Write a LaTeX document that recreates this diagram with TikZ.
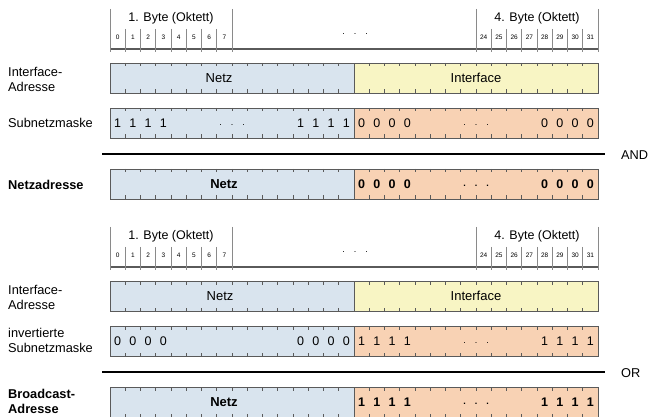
\documentclass[tikz,border=0pt]{standalone}
\usepackage{fontspec}
\setmainfont{Liberation Sans}
\definecolor{netzblue}{HTML}{D9E4EE}
\definecolor{ifyellow}{HTML}{F8F5C4}
\definecolor{hostpeach}{HTML}{F8D2B4}
\definecolor{edge}{HTML}{5A5A5A}
\definecolor{sepgray}{HTML}{8A8A8A}
\begin{document}
\begin{tikzpicture}[x=1pt,y=-1pt,
  lbl/.style={anchor=west,align=left,inner sep=0pt,font=\fontsize{12.8}{15}\selectfont},
  lblb/.style={lbl,font=\fontsize{12.8}{15}\selectfont\bfseries},
  hdrtitle/.style={inner sep=0pt,font=\fontsize{12.5}{14}\selectfont},
  bitnum/.style={inner sep=0pt,font=\fontsize{6.5}{7}\selectfont},
  ellip/.style={inner sep=0pt,font=\fontsize{9}{9}\selectfont},
  hdrbase/.style={draw=edge,line width=1.5pt},
  hdrsep/.style={draw=sepgray,line width=0.9pt},
  field/.style={draw=edge,line width=1.1pt,anchor=north west,minimum width=244pt,
    minimum height=30pt,inner sep=0pt},
  fieldtext/.style={inner sep=0pt,font=\fontsize{13}{14}\selectfont},
  fieldtextb/.style={inner sep=0pt,font=\fontsize{13}{14}\selectfont\bfseries},
  tick/.style={draw=edge,line width=0.7pt},
  digit/.style={inner sep=0pt,font=\fontsize{12.5}{14}\selectfont},
  digitb/.style={digit,font=\fontsize{12.5}{14}\selectfont\bfseries},
  oprule/.style={draw=black,line width=1.8pt},
  optext/.style={anchor=west,inner sep=0pt,font=\fontsize{12.8}{14}\selectfont}]
\useasboundingbox (0,0) rectangle (654,417);

% ---------------- header rules (base line, byte bounds, bit separators) ----------------
\foreach \top in {9,227} {
  \draw[hdrbase] (110,\top+40) -- (598,\top+40);
  \foreach \k in {0,8,24,32}
    \draw[hdrsep] ({110+\k*15.25},\top) -- ({110+\k*15.25},\top+43);
  \foreach \k in {1,...,7,25,26,27,28,29,30,31}
    \draw[hdrsep] ({110+\k*15.25},\top+20) -- ({110+\k*15.25},\top+43);
}

% bit ticks on a 32 bit field whose top edge is at #1
\newcommand\fieldticks[1]{%
  \foreach \k in {1,...,31} {
    \ifnum\k=16\relax\else
      \draw[tick] ({110+\k*15.25},#1) -- ++(0,3.5);
      \draw[tick] ({110+\k*15.25},{#1+30}) -- ++(0,-3.5);
    \fi
  }
}

% four digits in cells #2..#2+3 at height #3, style #1
\newcommand\digits[4]{%
  \foreach \k in {0,...,3}
    \node[#1] at ({110+(#2+\k+0.5)*15.25},#3) {#4};
}

% bit header texts, top at #2, names prefixed with #1
\newcommand\headertexts[2]{%
  \node[ellip] (#1dots) at (355,#2+25) {.\hspace{9pt}.\hspace{9pt}.};
  \node[hdrtitle] (#1ta) at ({110+4*15.25},#2+9) {1. Byte (Oktett)};
  \node[hdrtitle] (#1td) at ({110+28*15.25},#2+9) {4. Byte (Oktett)};
  \foreach \k in {0,...,7,24,25,26,27,28,29,30,31}
    \node[bitnum] (#1bit\k) at ({110+(\k+0.5)*15.25},#2+28) {\k};
}

\headertexts{h1}{9}
\headertexts{h2}{227}

% ---------------- network address (AND) ----------------
\node[lbl] (l1) at (8,79) {Interface-\\Adresse};
\node[field,fill=netzblue] (a1) at (110,63) {};
\node[field,fill=ifyellow] (b1) at (354,63) {};
\fieldticks{63}
\node[fieldtext] (a1t) at (219,78) {Netz};
\node[fieldtext] (b1t) at (476,78) {Interface};

\node[lbl] (l2) at (8,123) {Subnetzmaske};
\node[field,fill=netzblue] (a2) at (110,108) {};
\node[field,fill=hostpeach] (b2) at (354,108) {};
\fieldticks{108}
\digits{digit}{0}{123}{1}
\digits{digit}{12}{123}{1}
\digits{digit}{16}{123}{0}
\digits{digit}{28}{123}{0}
\node[ellip] (d2a) at (232,125) {.\hspace{9pt}.\hspace{9pt}.};
\node[ellip] (d2b) at (476,125) {.\hspace{9pt}.\hspace{9pt}.};

\coordinate (and0) at (102,154);
\coordinate (and1) at (605,154);
\draw[oprule] (and0) -- (and1);
\node[optext] (andop) at (621,155) {AND};

\node[lblb] (l3) at (8,185) {Netzadresse};
\node[field,fill=netzblue] (a3) at (110,169) {};
\node[field,fill=hostpeach] (b3) at (354,169) {};
\fieldticks{169}
\node[fieldtextb] (a3t) at (224,184) {Netz};
\digits{digitb}{16}{184}{0}
\digits{digitb}{28}{184}{0}
\node[ellip,font=\fontsize{9}{9}\selectfont\bfseries] (d3) at (476,186) {.\hspace{9pt}.\hspace{9pt}.};

% ---------------- broadcast address (OR) ----------------
\node[lbl] (l4) at (8,297) {Interface-\\Adresse};
\node[field,fill=netzblue] (a4) at (110,281) {};
\node[field,fill=ifyellow] (b4) at (354,281) {};
\fieldticks{281}
\node[fieldtext] (a4t) at (220,296) {Netz};
\node[fieldtext] (b4t) at (476,296) {Interface};

\node[lbl] (l5) at (8,340) {invertierte\\Subnetzmaske};
\node[field,fill=netzblue] (a5) at (110,326) {};
\node[field,fill=hostpeach] (b5) at (354,326) {};
\fieldticks{326}
\digits{digit}{0}{341}{0}
\digits{digit}{12}{341}{0}
\digits{digit}{16}{341}{1}
\digits{digit}{28}{341}{1}
\node[ellip] (d5) at (476,343) {.\hspace{9pt}.\hspace{9pt}.};

\coordinate (or0) at (102,372);
\coordinate (or1) at (605,372);
\draw[oprule] (or0) -- (or1);
\node[optext] (orop) at (621,373) {OR};

\node[lblb] (l6) at (8,401) {Broadcast-\\Adresse};
\node[field,fill=netzblue] (a6) at (110,387) {};
\node[field,fill=hostpeach] (b6) at (354,387) {};
\fieldticks{387}
\node[fieldtextb] (a6t) at (224,402) {Netz};
\digits{digitb}{16}{402}{1}
\digits{digitb}{28}{402}{1}
\node[ellip,font=\fontsize{9}{9}\selectfont\bfseries] (d6) at (476,404) {.\hspace{9pt}.\hspace{9pt}.};
\end{tikzpicture}
\end{document}
